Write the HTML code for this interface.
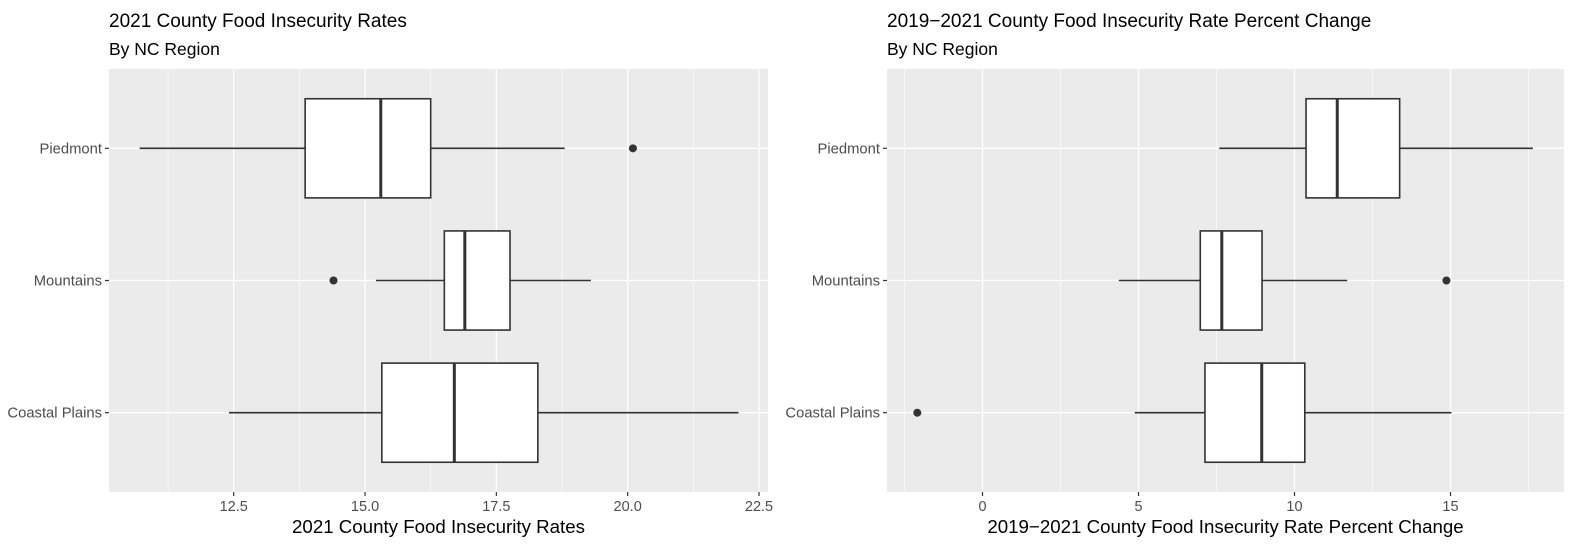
<!DOCTYPE html>
<html><head><meta charset="utf-8"><style>
body{margin:0;background:#fff;}
svg{display:block;font-family:"Liberation Sans",Arial,sans-serif;}
</style></head><body>
<svg id="chart" width="1581" height="551" xmlns="http://www.w3.org/2000/svg"></svg>
<script>
const categories = ["Piedmont", "Mountains", "Coastal Plains"];
// left panel: 2021 rates [wlo, q1, med, q3, whi]
const leftStats = [
  [10.71, 13.86, 15.30, 16.25, 18.80],
  [15.21, 16.51, 16.90, 17.76, 19.30],
  [12.41, 15.32, 16.70, 18.29, 22.11]
];
const leftOutliers = [[20.10], [14.40], []];
const leftTicks = [12.5, 15.0, 17.5, 20.0, 22.5];
const leftTickLabels = ["12.5", "15.0", "17.5", "20.0", "22.5"];
// right panel: percent change
const rightStats = [
  [7.59, 10.37, 11.37, 13.37, 17.64],
  [4.37, 6.98, 7.67, 8.96, 11.69],
  [4.88, 7.13, 8.95, 10.33, 15.03]
];
const rightOutliers = [[], [14.87], [-2.09]];
const rightTicks = [0, 5, 10, 15];
const rightTickLabels = ["0", "5", "10", "15"];

const NS = "http://www.w3.org/2000/svg";
const svg = document.getElementById("chart");
function mk(tag, attrs, parent) {
  const e = document.createElementNS(NS, tag);
  for (const k in attrs) e.setAttribute(k, attrs[k]);
  (parent || svg).appendChild(e);
  return e;
}

function panel(cfg) {
  const g = mk("g", {});
  
  
  const x = v => cfg.x0 + (v - cfg.v0) * cfg.k;
  const top = 69, bottom = 492;
  const unit = (bottom - top) / 3.2;
  const yc = i => top + (0.6 + i) * unit;
  const bg = mk("rect", {x: cfg.left, y: top, width: cfg.right - cfg.left, height: bottom - top, fill: "#ebebeb"}, g);
  
  
  const step = cfg.ticks[1] - cfg.ticks[0];
  const minorStart = cfg.ticks[0] - step * 1.5;
  for (let v = minorStart; v <= cfg.ticks[cfg.ticks.length - 1] + step; v += step) {
    const px = x(v);
    if (px > cfg.left && px < cfg.right) {
      const l = mk("line", {x1: px, x2: px, y1: top, y2: bottom, stroke: "#fff", "stroke-width": 0.6}, g);
      
      
    }
  }
  cfg.ticks.forEach((t, i) => {
    const px = x(t);
    const l = mk("line", {x1: px, x2: px, y1: top, y2: bottom, stroke: "#fff", "stroke-width": 1.3}, g);
    
    
    const tk = mk("line", {x1: px, x2: px, y1: bottom, y2: bottom + 4, stroke: "#333", "stroke-width": 1.2}, g);
    
    
    const tx = mk("text", {x: px, y: bottom + 19, "text-anchor": "middle", "font-size": 14.5, fill: "#4d4d4d"}, g);
    tx.textContent = cfg.labels[i];
    
    
  });
  categories.forEach((c, i) => {
    const y = yc(i);
    const hl = mk("line", {x1: cfg.left, x2: cfg.right, y1: y, y2: y, stroke: "#fff", "stroke-width": 1.3}, g);
    
    
    const tk = mk("line", {x1: cfg.left - 4, x2: cfg.left, y1: y, y2: y, stroke: "#333", "stroke-width": 1.2}, g);
    
    
    const lb = mk("text", {x: cfg.left - 7, y: y + 5, "text-anchor": "end", "font-size": 14.8, fill: "#4d4d4d"}, g);
    lb.textContent = c;
    
    
    const s = cfg.stats[i];
    const hh = unit * 0.375;
    const bx = mk("g", {}, g);
    
    
    mk("line", {x1: x(s[0]), x2: x(s[1]), y1: y, y2: y, stroke: "#333", "stroke-width": 1.6}, bx);
    mk("line", {x1: x(s[3]), x2: x(s[4]), y1: y, y2: y, stroke: "#333", "stroke-width": 1.6}, bx);
    mk("rect", {x: x(s[1]), y: y - hh, width: x(s[3]) - x(s[1]), height: 2 * hh, fill: "#fff", stroke: "#333", "stroke-width": 1.6}, bx);
    mk("line", {x1: x(s[2]), x2: x(s[2]), y1: y - hh, y2: y + hh, stroke: "#333", "stroke-width": 3}, bx);
    cfg.outliers[i].forEach(o => {
      const p = mk("circle", {cx: x(o), cy: y, r: 4, fill: "#333"}, g);
      
      
    });
  });
  const t = mk("text", {x: cfg.left, y: 27, "font-size": 19, fill: "#000"}, g);
  t.textContent = cfg.title;
  
  
  const st = mk("text", {x: cfg.left, y: 55, "font-size": 17.5, fill: "#000"}, g);
  st.textContent = "By NC Region";
  
  
  const at = mk("text", {x: (cfg.left + cfg.right) / 2, y: 533, "text-anchor": "middle", "font-size": 18.7, fill: "#000"}, g);
  at.textContent = cfg.title;
  
  
}

panel({name: "left-panel", left: 109, right: 768, x0: 233.7, v0: 12.5, k: 52.53,
  ticks: leftTicks, labels: leftTickLabels, stats: leftStats, outliers: leftOutliers,
  title: "2021 County Food Insecurity Rates"});
panel({name: "right-panel", left: 887, right: 1564, x0: 982.5, v0: 0, k: 31.2,
  ticks: rightTicks, labels: rightTickLabels, stats: rightStats, outliers: rightOutliers,
  title: "2019\u22122021 County Food Insecurity Rate Percent Change"});
</script>
</body></html>
